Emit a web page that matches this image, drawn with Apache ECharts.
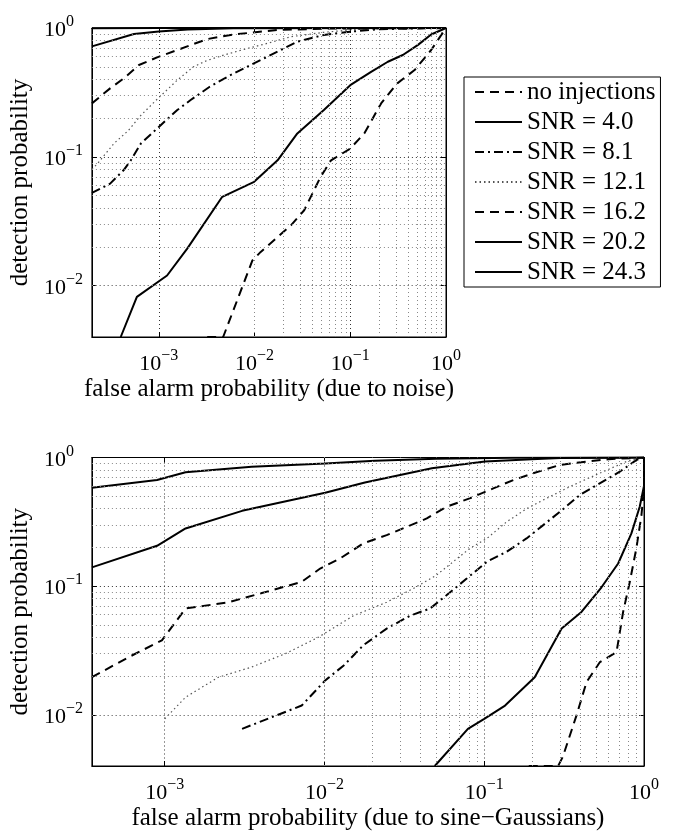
<!DOCTYPE html>
<html>
<head>
<meta charset="utf-8">
<script src="https://cdn.jsdelivr.net/npm/echarts@6/dist/echarts.min.js"></script>
<style>
  html, body { margin: 0; padding: 0; background: #fff; }
  #chart { width: 675px; height: 832px; }
</style>
</head>
<body>
<div id="chart"></div>
<script>
// Receiver-operating curves: detection probability against false-alarm probability.
const seriesNames = ['no injections', 'SNR = 4.0', 'SNR = 8.1', 'SNR = 12.1', 'SNR = 16.2', 'SNR = 20.2', 'SNR = 24.3'];

// Upper panel: false alarms caused by noise  ([false alarm, detection])
const noiseNoInj = [[3.2e-3,0.004],[4.7e-3,0.004],[9.5e-3,0.0157],[1.16e-2,0.0183],[2.4e-2,0.0294],[3.3e-2,0.0385],[4.9e-2,0.070],[6.3e-2,0.094],[0.10,0.116],[0.14,0.152],[0.21,0.26],[0.31,0.372],[0.47,0.472],[0.70,0.675],[1,1]];
const noiseSnr40 = [[4.0e-4,0.004],[5.9e-4,0.0082],[1.22e-3,0.012],[1.98e-3,0.0194],[4.6e-3,0.049],[9.9e-3,0.064],[1.74e-2,0.094],[2.8e-2,0.152],[5.3e-2,0.231],[0.10,0.36],[0.165,0.457],[0.247,0.547],[0.354,0.617],[0.51,0.74],[0.70,0.89],[1,1]];
const noiseSnr81 = [[2e-4,0.0525],[3.1e-4,0.062],[4.3e-4,0.079],[5.1e-4,0.094],[6.5e-4,0.127],[9.6e-4,0.166],[1.56e-3,0.231],[2.15e-3,0.276],[3.4e-3,0.35],[5.6e-3,0.431],[9.1e-3,0.516],[1.74e-2,0.655],[2.8e-2,0.783],[5.3e-2,0.883],[0.10,0.936],[0.2,0.98],[1,1]];
const noiseSnr121 = [[2e-4,0.08],[2.3e-4,0.089],[3.4e-4,0.127],[4.8e-4,0.16],[6.5e-4,0.21],[9.6e-4,0.28],[1.56e-3,0.394],[2.3e-3,0.50],[3.2e-3,0.56],[4.8e-3,0.617],[7.8e-3,0.683],[1.36e-2,0.76],[2.4e-2,0.856],[5.3e-2,0.926],[0.12,0.977],[0.3,0.995],[1,1]];
const noiseSnr162 = [[2e-4,0.26],[3.1e-4,0.34],[4.3e-4,0.406],[6.2e-4,0.516],[9.6e-4,0.592],[1.56e-3,0.675],[3.2e-3,0.82],[6e-3,0.89],[1.74e-2,0.965],[6e-2,0.99],[1,1]];
const noiseSnr202 = [[2e-4,0.72],[5.5e-4,0.898],[1e-3,0.94],[2e-3,0.975],[6e-3,0.995],[1,1]];
const noiseSnr243 = [[2e-4,0.995],[1e-3,1],[1,1]];

// Lower panel: false alarms caused by sine-Gaussian glitches
const sgNoInj = [[0.19,0.004],[0.29,0.004],[0.31,0.0047],[0.378,0.0099],[0.437,0.018],[0.53,0.0257],[0.673,0.0307],[0.74,0.063],[0.815,0.108],[0.895,0.196],[0.964,0.356],[1,0.575],[1,1]];
const sgSnr40 = [[0.049,0.004],[0.079,0.00778],[0.10,0.0093],[0.135,0.0118],[0.207,0.0196],[0.305,0.0468],[0.406,0.063],[0.542,0.098],[0.689,0.15],[0.834,0.257],[0.94,0.414],[1,0.6],[1,1]];
const sgSnr81 = [[3.05e-3,0.00778],[4.7e-3,0.0096],[7.2e-3,0.0118],[1.01e-2,0.0185],[1.32e-2,0.0242],[1.75e-2,0.0347],[2.45e-2,0.0468],[3.44e-2,0.059],[4.58e-2,0.067],[5.8e-2,0.085],[7.8e-2,0.115],[0.104,0.155],[0.138,0.185],[0.184,0.235],[0.234,0.298],[0.297,0.378],[0.396,0.51],[0.528,0.63],[0.705,0.776],[0.895,0.955],[1,1]];
const sgSnr121 = [[1e-3,0.0093],[1.35e-3,0.0137],[2.17e-3,0.0196],[3.5e-3,0.0235],[5.7e-3,0.0299],[9.2e-3,0.0402],[1.52e-2,0.059],[2.45e-2,0.075],[3.6e-2,0.096],[5.03e-2,0.122],[6.4e-2,0.155],[8.1e-2,0.196],[0.104,0.235],[0.138,0.316],[0.184,0.40],[0.245,0.481],[0.36,0.61],[0.555,0.776],[0.776,0.93],[1,1]];
const sgSnr162 = [[3.5e-4,0.0196],[5.96e-4,0.0281],[9.6e-4,0.0379],[1.35e-3,0.067],[2.51e-3,0.075],[4.7e-3,0.093],[7.2e-3,0.108],[9.4e-3,0.137],[1.25e-2,0.164],[1.75e-2,0.215],[2.45e-2,0.249],[3.27e-2,0.289],[4.37e-2,0.336],[5.8e-2,0.414],[8.1e-2,0.481],[0.114,0.575],[0.152,0.668],[0.202,0.753],[0.297,0.875],[0.437,0.93],[0.6,0.97],[1,1]];
const sgSnr202 = [[3.5e-4,0.14],[8.95e-4,0.206],[1.35e-3,0.281],[3.05e-3,0.385],[1.01e-2,0.532],[1.79e-2,0.64],[4.7e-2,0.824],[0.101,0.93],[0.198,0.97],[0.3,0.99],[1,1]];
const sgSnr243 = [[3.5e-4,0.582],[8.95e-4,0.668],[1.35e-3,0.767],[3.5e-3,0.848],[1.01e-2,0.90],[2.07e-2,0.944],[0.05,0.98],[0.15,0.995],[1,1]];

// Decade exponents that carry a tick label
const xLabelExponents = [-3, -2, -1, 0];
const yLabelExponents = [-2, -1, 0];

const noiseRange = { xMin: 2e-4, xMax: 1, yMin: 0.004, yMax: 1 };
const sgRange = { xMin: 3.5e-4, xMax: 1, yMin: 0.004, yMax: 1 };

const FONT = 'Liberation Serif';

// Line appearance for each entry of seriesNames
const lineStyles = [
  { type: [9, 6], width: 2, color: '#000' },
  { type: 'solid', width: 2, color: '#000' },
  { type: [9, 4, 2, 4], width: 2, color: '#000' },
  { type: [1.5, 3], width: 1.2, color: '#555' },
  { type: [9, 6], width: 2, color: '#000' },
  { type: 'solid', width: 2, color: '#000' },
  { type: 'solid', width: 2, color: '#000' }
];

function powerLabel(allowed) {
  return function (v) {
    const e = Math.log10(v);
    const r = Math.round(e);
    if (Math.abs(e - r) > 1e-6 || allowed.indexOf(r) < 0) return '';
    const sup = r < 0 ? '\u2212' + (-r) : String(r);
    return '{b|10}{s|' + sup + '}';
  };
}

const labelRich = {
  b: { fontFamily: FONT, fontSize: 22, color: '#000', padding: [5, 0, 0, 0] },
  s: { fontFamily: FONT, fontSize: 16, color: '#000', padding: [0, 0, 12, 0] }
};

// Minor grid positions (2..9 times each decade) strictly inside a range
function minorValues(lo, hi) {
  const out = [];
  for (let d = Math.floor(Math.log10(lo)); d < Math.ceil(Math.log10(hi)); d++) {
    for (let m = 2; m <= 9; m++) {
      const v = m * Math.pow(10, d);
      if (v > lo * 1.0001 && v < hi * 0.9999) out.push(v);
    }
  }
  return out;
}

const boxLine = { show: true, lineStyle: { color: '#000', width: 1 } };
const innerTick = { show: true, inside: true, length: 5, lineStyle: { color: '#000' } };
const majorGrid = { show: true, lineStyle: { color: '#333', width: 1, type: [1, 3] } };

function xAxisFor(idx, range, title) {
  return {
    type: 'log', logBase: 10, gridIndex: idx, min: range.xMin, max: range.xMax,
    name: title, nameLocation: 'middle', nameGap: 40,
    nameTextStyle: { fontFamily: FONT, fontSize: 25, color: '#000' },
    axisLine: boxLine, axisTick: innerTick, splitLine: majorGrid,
    axisLabel: { interval: 0, margin: 11, formatter: powerLabel(xLabelExponents), rich: labelRich, hideOverlap: false }
  };
}

function yAxisFor(idx, range) {
  return {
    type: 'log', logBase: 10, gridIndex: idx, min: range.yMin, max: range.yMax,
    name: 'detection probability', nameLocation: 'middle', nameGap: 57,
    nameTextStyle: { fontFamily: FONT, fontSize: 25, color: '#000' },
    axisLine: boxLine, axisTick: innerTick, splitLine: majorGrid,
    axisLabel: { interval: 0, align: 'left', margin: 48, formatter: powerLabel(yLabelExponents), rich: labelRich, hideOverlap: false }
  };
}

// Mirror axes on the top and right edges carry only inward ticks
function mirrorX(idx, range) {
  return {
    type: 'log', logBase: 10, gridIndex: idx, position: 'top', min: range.xMin, max: range.xMax,
    axisLine: boxLine, axisTick: innerTick, splitLine: { show: false }, axisLabel: { show: false }
  };
}
function mirrorY(idx, range) {
  return {
    type: 'log', logBase: 10, gridIndex: idx, position: 'right', min: range.yMin, max: range.yMax,
    axisLine: boxLine, axisTick: innerTick, splitLine: { show: false }, axisLabel: { show: false }
  };
}

function curveSeries(idx, sets) {
  return sets.map((d, i) => ({
    name: seriesNames[i], type: 'line', xAxisIndex: idx, yAxisIndex: idx,
    data: d, symbol: 'none', showSymbol: false, silent: true, clip: true,
    color: lineStyles[i].color,
    lineStyle: { type: lineStyles[i].type, width: lineStyles[i].width, color: lineStyles[i].color },
    z: 3
  }));
}

function minorGridSeries(idx, range) {
  const marks = minorValues(range.xMin, range.xMax).map(v => ({ xAxis: v }))
    .concat(minorValues(range.yMin, range.yMax).map(v => ({ yAxis: v })));
  return {
    type: 'line', xAxisIndex: idx, yAxisIndex: idx, data: [[range.xMax, range.yMax]],
    symbol: 'none', silent: true, lineStyle: { opacity: 0 }, z: 1,
    markLine: {
      silent: true, symbol: ['none', 'none'], label: { show: false }, animation: false,
      lineStyle: { color: '#888', width: 1, type: [1, 3] },
      emphasis: { disabled: true },
      data: marks
    }
  };
}

const chart = echarts.init(document.getElementById('chart'), null, { renderer: 'canvas' });
chart.setOption({
  animation: false,
  backgroundColor: '#fff',
  grid: [
    { left: 91, top: 28, width: 355, height: 309, show: true, borderColor: '#000', borderWidth: 1, backgroundColor: 'transparent' },
    { left: 91, top: 457.5, width: 553, height: 309, show: true, borderColor: '#000', borderWidth: 1, backgroundColor: 'transparent' }
  ],
  xAxis: [
    xAxisFor(0, noiseRange, 'false alarm probability (due to noise)'),
    xAxisFor(1, sgRange, 'false alarm probability (due to sine\u2212Gaussians)'),
    mirrorX(0, noiseRange),
    mirrorX(1, sgRange)
  ],
  yAxis: [yAxisFor(0, noiseRange), yAxisFor(1, sgRange), mirrorY(0, noiseRange), mirrorY(1, sgRange)],
  legend: {
    data: seriesNames, orient: 'vertical', left: 464, top: 77,
    backgroundColor: '#fff', borderColor: '#000', borderWidth: 1, borderRadius: 0,
    padding: [0, 5, 0, 10], itemGap: 0, itemWidth: 47, itemHeight: 14, selectedMode: false,
    itemStyle: { opacity: 0, borderWidth: 0 },
    textStyle: { fontFamily: FONT, fontSize: 25, color: '#000', lineHeight: 30 }
  },
  series: [
    minorGridSeries(0, noiseRange),
    minorGridSeries(1, sgRange),
    ...curveSeries(0, [noiseNoInj, noiseSnr40, noiseSnr81, noiseSnr121, noiseSnr162, noiseSnr202, noiseSnr243]),
    ...curveSeries(1, [sgNoInj, sgSnr40, sgSnr81, sgSnr121, sgSnr162, sgSnr202, sgSnr243])
  ]
});
</script>
</body>
</html>
